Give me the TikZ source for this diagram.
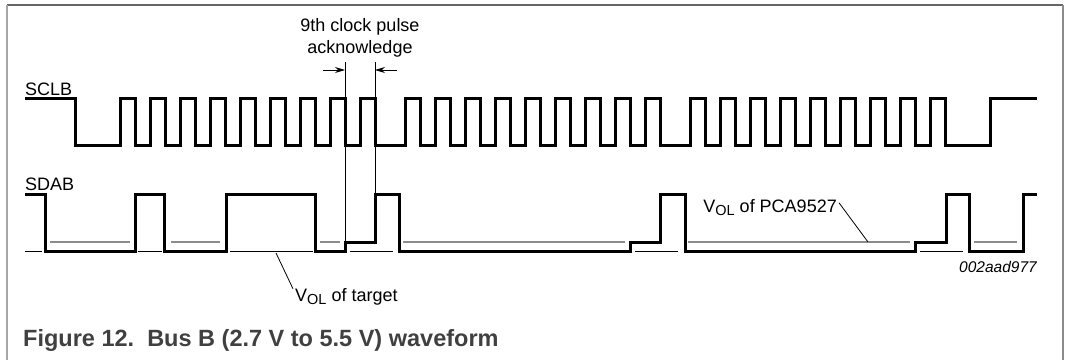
\documentclass[tikz,border=0pt]{standalone}
\usepackage{fontspec}
\setmainfont{Liberation Sans}
\usetikzlibrary{arrows.meta}
\newcommand{\sbs}[1]{\raisebox{-0.35ex}{\fontsize{14.5}{15}\selectfont #1}}
\begin{document}
\begin{tikzpicture}[x=1pt,y=-1pt,
  wave/.style={line width=3pt, line join=miter},
  thinblk/.style={line width=1pt, black},
  vol/.style={line width=1.4pt, black!45},
  lead/.style={line width=0.8pt, black},
  lbl/.style={font=\fontsize{18}{21}\selectfont, inner sep=0pt},
  frameline/.style={line width=1.5pt}]
\useasboundingbox (0,0) rectangle (1065,360);
% frame
\draw[frameline, black!60] (7,5) -- (1063,5);
\draw[frameline, black!35] (7,5) -- (7,360);
\draw[frameline, black!45] (1063,5) -- (1063,360);

% V_OL of PCA9527 (grey) lines
\foreach \a/\b in {50/130,171/220,320/340,403/625,688/910,974/1017}
  \draw[vol] (\a,242) -- (\b,242);
% V_OL of target (thin black) lines
\foreach \a/\b in {25/42,138/162,230/313,350/393,635/678,920/963}
  \draw[thinblk] (\a,251) -- (\b,251);

% dimension lines for 9th clock pulse
\coordinate (d1t) at (345,62);
\coordinate (d1b) at (345,242);
\coordinate (d2t) at (375,62);
\coordinate (d2b) at (375,194);
\coordinate (a1s) at (323,70);
\coordinate (a1e) at (345,70);
\coordinate (a2s) at (397,70);
\coordinate (a2e) at (375,70);
\draw[lead] (d1t) -- (d1b);
\draw[lead] (d2t) -- (d2b);
\draw[lead, -{Stealth[length=10pt,width=6pt]}] (a1s) -- (a1e);
\draw[lead, -{Stealth[length=10pt,width=6pt]}] (a2s) -- (a2e);

% SCLB waveform
\draw[wave] (25,98) -- (75,98) -- (75,145)
  \foreach \r in {120,150,180,210,240,270,300,330,360,405,435,465,495,525,555,585,615,645,690,720,750,780,810,840,870,900,930}
  { -- (\r,145) -- (\r,98) -- ({\r+15},98) -- ({\r+15},145) }
  -- (990,145) -- (990,98) -- (1037,98);

% SDAB waveform
\draw[wave] (25,194) -- (45,194) -- (45,251) -- (135,251) -- (135,194) -- (164,194)
  -- (164,251) -- (226,251) -- (226,194) -- (315,194) -- (315,251) -- (345,251)
  -- (345,242) -- (375,242) -- (375,194) -- (399,194) -- (399,251) -- (630,251)
  -- (630,242) -- (660,242) -- (660,194) -- (685,194) -- (685,251) -- (915,251)
  -- (915,242) -- (946,242) -- (946,194) -- (969,194) -- (969,251) -- (1023,251)
  -- (1023,194) -- (1037,194);

% labels
\node[lbl, anchor=base west] (sclb) at (25,95) {SCLB};
\node[lbl, anchor=base west] (sdab) at (25,190) {SDAB};
\node[lbl, anchor=base] (t9) at (360,31) {9th clock pulse};
\node[lbl, anchor=base] (ack) at (360,53) {acknowledge};
\node[lbl, anchor=base west] (voltgt) at (295,301) {V\sbs{OL} of target};
\node[lbl, anchor=base east] (volpca) at (837,212) {V\sbs{OL} of PCA9527};
\coordinate (tgtpt) at (276,253);
\coordinate (pcapt) at (868,242);
\draw[lead] ([xshift=-2pt,yshift=-1pt]voltgt.north west) -- (tgtpt);
\draw[lead] ([xshift=2pt,yshift=-4pt]volpca.north east) -- (pcapt);
\node[font=\fontsize{15.5}{18}\selectfont\itshape, inner sep=0pt, anchor=base east] (code) at (1037,272) {002aad977};

% caption
\node[font=\fontsize{23.5}{28}\selectfont\bfseries, text=black!75, inner sep=0pt, anchor=base west] (cap) at (23,346) {Figure 12.\ \ Bus B (2.7 V to 5.5 V) waveform};
\end{tikzpicture}
\end{document}
